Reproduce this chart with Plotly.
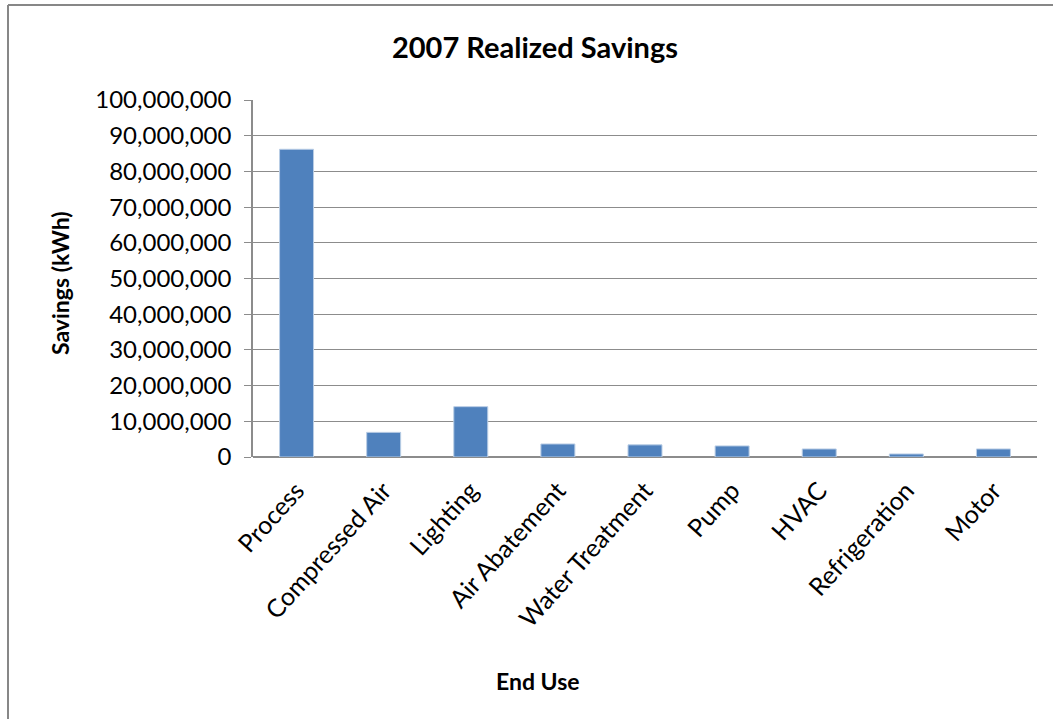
import plotly.graph_objects as go

# 2007 realized savings by end use (kWh)
end_uses = ["Process", "Compressed Air", "Lighting", "Air Abatement", "Water Treatment",
            "Pump", "HVAC", "Refrigeration", "Motor"]
savings_kwh = [86_200_000, 6_900_000, 14_100_000, 3_650_000, 3_400_000,
               3_100_000, 2_250_000, 850_000, 2_250_000]
y_ticks = list(range(0, 100_000_001, 10_000_000))

W, H = 1053, 719
L, R, T, B = 253, 16, 100, 262

FONT = "Lato, 'Open Sans', sans-serif"
GRID = "#8c8c8c"

fig = go.Figure(
    go.Bar(
        x=end_uses,
        y=savings_kwh,
        marker=dict(color="#4F81BD", line=dict(color="#B9CDE5", width=1)),
        hoverinfo="x+y",
    )
)

# helpers: pixel position -> paper coordinates
pw, ph = W - L - R, H - T - B
def px(x):
    return (x - L) / pw
def py(y):
    return (H - B - y) / ph

# outer chart frame (left and top edges)
fig.add_shape(type="line", xref="paper", yref="paper",
              x0=px(8), y0=py(719), x1=px(8), y1=py(5),
              line=dict(color="#878787", width=2))
fig.add_shape(type="line", xref="paper", yref="paper",
              x0=px(8), y0=py(5), x1=px(1053), y1=py(5),
              line=dict(color="#878787", width=2))

# axis titles
fig.add_annotation(text="<b>End Use</b>", xref="paper", yref="paper",
                   x=px(538), y=py(681), xanchor="center", yanchor="middle",
                   showarrow=False, font=dict(size=23, family=FONT, color="black"))
fig.add_annotation(text="<b>Savings (kWh)</b>", xref="paper", yref="paper",
                   x=px(60), y=py(283), xanchor="center", yanchor="middle",
                   textangle=-90, showarrow=False,
                   font=dict(size=23, family=FONT, color="black"))

fig.update_layout(
    width=W, height=H,
    margin=dict(l=L, r=R, t=T, b=B, pad=0),
    paper_bgcolor="white", plot_bgcolor="white",
    bargap=0.61,
    showlegend=False,
    font=dict(family=FONT, color="black"),
    title=dict(text="<b>2007 Realized Savings</b>", x=535 / W, xanchor="center",
               y=1 - 48 / H, yanchor="middle", font=dict(size=29, family=FONT)),
    xaxis=dict(
        tickangle=-48,
        tickfont=dict(size=25),
        showgrid=False,
        showline=False,
        ticks="",
        ticklabelstandoff=13,
        fixedrange=True,
    ),
    yaxis=dict(
        range=[0, 100_000_000],
        tickvals=y_ticks,
        tickformat=",d",
        tickfont=dict(size=24),
        showgrid=True, gridcolor=GRID, gridwidth=1,
        zeroline=True, zerolinecolor=GRID, zerolinewidth=1.5,
        showline=True, linecolor=GRID, linewidth=1.5,
        ticks="outside", ticklen=7, tickcolor=GRID,
        ticklabelstandoff=8,
        fixedrange=True,
    ),
)

fig.write_html("out.html")
